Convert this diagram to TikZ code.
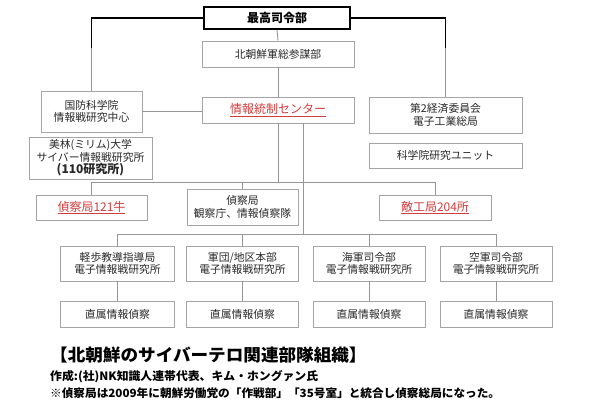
\documentclass[tikz,border=0pt]{standalone}
\usepackage{fontspec}
\newfontfamily\jp{Noto Sans CJK JP}
\definecolor{boxgray}{RGB}{165,165,165}
\definecolor{linegray}{RGB}{150,150,150}
\definecolor{txt}{RGB}{40,40,40}
\definecolor{redt}{RGB}{210,60,60}
\tikzset{
  box/.style={draw=boxgray, line width=0.9pt, fill=white, inner sep=0pt, align=center,
    font=\jp\fontsize{10.8}{12.5}\selectfont, text=txt},
  redbox/.style={box, font=\jp\fontsize{12}{14}\selectfont, text=redt},
  conn/.style={draw=linegray, line width=0.9pt},
  blk/.style={draw=black, line width=1.1pt},
  caption/.style={anchor=west, inner sep=0pt, text=black}
}
\begin{document}
\begin{tikzpicture}[x=1pt,y=-1pt]
\useasboundingbox (0,0) rectangle (591,414);
% top level
\node[draw=black, line width=1.2pt, fill=white, inner sep=0pt, minimum width=146pt, minimum height=22pt,
  font=\jp\bfseries\fontsize{12}{14}\selectfont] (top) at (277,18) {最高司令部};
\node[box, minimum width=152pt, minimum height=26pt] (gen) at (278,54) {北朝鮮軍総参謀部};
\node[redbox, minimum width=152pt, minimum height=26pt] (ctr) at (278,110) {\underline{情報統制センター}};
% left column
\node[box, minimum width=101pt, minimum height=41pt] (kokubo) at (91.5,111.5) {国防科学院\\情報戦研究中心};
\node[box, minimum width=123pt, minimum height=42pt] (mirim) at (90.5,158) {美林(ミリム)大学\\サイバー情報戦研究所\\{\bfseries\fontsize{12}{13}\selectfont (110研究所)}};
% right column
\node[box, minimum width=153pt, minimum height=36pt] (keizai) at (445.5,115) {第2経済委員会\\電子工業総局};
\node[box, minimum width=153pt, minimum height=25pt] (kagaku) at (445.5,155.5) {科学院研究ユニット};
% middle row
\node[redbox, minimum width=111pt, minimum height=25pt] (tei121) at (91.5,207.5) {\underline{偵察局121牛}};
\node[box, minimum width=111pt, minimum height=36pt] (teisatsu) at (242.5,207) {偵察局\\観察庁、情報偵察隊};
\node[redbox, minimum width=112pt, minimum height=25pt] (teki204) at (435,207.5) {\underline{敵工局204所}};
% bottom rows
\node[box, minimum width=114pt, minimum height=35pt] (b1) at (117.5,263.5) {軽歩教導指導局\\電子情報戦研究所};
\node[box, minimum width=112pt, minimum height=35pt] (b2) at (242.5,263.5) {軍団/地区本部\\電子情報戦研究所};
\node[box, minimum width=112pt, minimum height=35pt] (b3) at (369,263.5) {海軍司令部\\電子情報戦研究所};
\node[box, minimum width=112pt, minimum height=35pt] (b4) at (496,263.5) {空軍司令部\\電子情報戦研究所};
\node[box, minimum width=114pt, minimum height=26pt] (c1) at (117.5,314) {直属情報偵察};
\node[box, minimum width=112pt, minimum height=26pt] (c2) at (242.5,314) {直属情報偵察};
\node[box, minimum width=112pt, minimum height=26pt] (c3) at (369,314) {直属情報偵察};
\node[box, minimum width=112pt, minimum height=26pt] (c4) at (496,314) {直属情報偵察};
% junction coordinates
\coordinate (tl) at (91.5,18);
\coordinate (tlb) at (91.5,48);
\coordinate (tr) at (445.5,18);
\coordinate (trb) at (445.5,48);
\coordinate (j1) at (278,182.5);
\coordinate (j2) at (303,234);
% connectors
\draw[blk] (top.west) -- (tl) -- (tlb);
\draw[conn] (tlb) -- (kokubo.north);
\draw[blk] (top.east) -- (tr) -- (trb);
\draw[conn] (trb) -- (keizai.north);
\draw[conn] (top.south) -- (gen.north);
\draw[conn] (gen.south) -- (ctr.north);
\draw[conn] (kokubo.east) -- (kokubo.east -| ctr.west);
\draw[conn] (ctr.south) -- (j1);
\draw[conn] (ctr.south -| j2) -- (j2);
\draw[conn] (tei121.north |- j1) -- (teki204.north |- j1);
\draw[conn] (tei121.north |- j1) -- (tei121.north);
\draw[conn] (teisatsu.north |- j1) -- (teisatsu.north);
\draw[conn] (teki204.north |- j1) -- (teki204.north);
\draw[conn] (b1.north |- j2) -- (b4.north |- j2);
\foreach \b/\c in {b1/c1,b2/c2,b3/c3,b4/c4}{
  \draw[conn] (\b.north |- j2) -- (\b.north);
  \draw[conn] (\b.south) -- (\c.north);
}
% caption
\node[caption, font=\jp\bfseries\fontsize{17}{19}\selectfont] (t1) at (50,355) {\scalebox{1.035}[1]{【北朝鮮のサイバーテロ関連部隊組織】}};
\node[caption, font=\jp\bfseries\fontsize{11.5}{13}\selectfont] (t2) at (50,377) {\scalebox{1.03}[1]{作成:(社)NK知識人連帯代表、キム・ホングァン氏}};
\node[caption, font=\jp\bfseries\fontsize{11.3}{13}\selectfont] (t3) at (50,393) {\scalebox{1.03}[1]{※偵察局は2009年に朝鮮労働党の「作戦部」「35号室」と統合し偵察総局になった。}};
\end{tikzpicture}
\end{document}
